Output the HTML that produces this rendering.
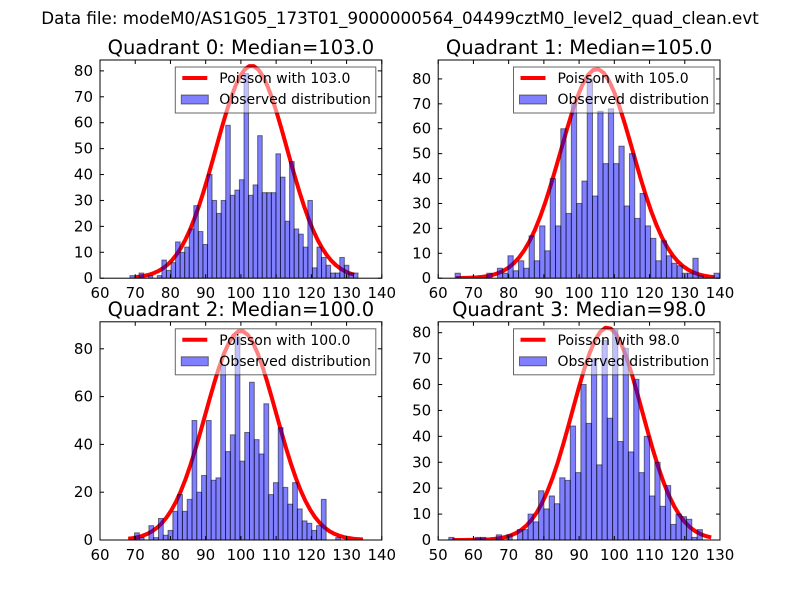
<!DOCTYPE html>
<html><head><meta charset="utf-8"><style>
html,body{margin:0;padding:0;background:#fff;}
svg{display:block;font-family:"DejaVu Sans","Liberation Sans",sans-serif;}
</style></head><body>
<svg id="fig" width="800" height="600" viewBox="0 0 800 600">
<rect width="800" height="600" fill="#fff"/>
<text x="400" y="24" text-anchor="middle" font-size="16.7">Data file: modeM0/AS1G05_173T01_9000000564_04499cztM0_level2_quad_clean.evt</text>
</svg>
<script>
const counts0 = [1,0,2,0,1,0,1,7,3,6,14,10,12,19,28,18,13,40,30,25,30,59,32,34,38,79,32,36,55,33,33,33,48,39,22,45,19,17,12,30,4,12,8,5,2,2,8,5,2,2];
const counts1 = [2,0,0,0,0,0,2,0,4,2,9,3,7,4,17,7,21,11,40,21,60,26,70,30,39,80,33,67,46,68,46,53,29,50,24,34,21,16,7,15,9,6,5,2,2,8,1,0,0,2];
const counts2 = [3,1,0,6,1,9,2,4,12,19,12,17,50,20,27,50,25,26,73,37,44,85,33,45,66,42,36,57,19,24,47,22,15,24,13,8,7,4,6,17,0,0,1];
const counts3 = [1,0,0,0,0,1,1,0,0,2,0,2,0,4,4,10,7,19,12,17,14,24,23,44,26,60,45,70,29,77,47,81,38,74,34,62,26,40,17,30,13,21,6,10,9,8,1,4];
const binStarts = [68.5, 64.8, 69.8, 53.0];
const binWidths = [1.295, 1.5, 1.36, 1.5];
const medians = [103.0, 105.0, 100.0, 98.0];
const curveAmps = [82, 84, 87.5, 82];
const curveRanges = [[70,133],[65,139],[68,135],[54,128]];
const xTickVals = [[60,70,80,90,100,110,120,130,140],[60,70,80,90,100,110,120,130,140],[60,70,80,90,100,110,120,130,140],[50,60,70,80,90,100,110,120,130]];
const yTickVals = [[0,10,20,30,40,50,60,70,80],[0,10,20,30,40,50,60,70,80],[0,20,40,60,80],[0,10,20,30,40,50,60,70,80]];
const xLims = [[60,140],[60,140],[60,140],[50,130]];
const yMaxes = [84.2, 87.6, 91.3, 84.2];

const NS = "http://www.w3.org/2000/svg";
const svg = document.getElementById('fig');
function mk(tag, attrs, parent){
  const e = document.createElementNS(NS, tag);
  for (const k in attrs) e.setAttribute(k, attrs[k]);
  (parent||svg).appendChild(e);
  return e;
}
const allCounts = [counts0, counts1, counts2, counts3];
const W = 281.8, H = 218.2;
const lefts = [100, 438.2, 100, 438.2];
const tops = [60, 60, 321.8, 321.8];

for (let p = 0; p < 4; p++) {
  const L = lefts[p], T = tops[p], B = T + H, R = L + W;
  const g = mk('g', {});
  
  
  const xs = v => L + (v - xLims[p][0]) / (xLims[p][1] - xLims[p][0]) * W;
  const ys = v => B - v / yMaxes[p] * H;
  const clipId = 'clip' + p;
  const cp = mk('clipPath', {id: clipId}, g);
  mk('rect', {x: L, y: T, width: W, height: H}, cp);
  const plotG = mk('g', {'clip-path': 'url(#' + clipId + ')'}, g);

  const [c0, c1] = curveRanges[p];
  const lam = medians[p];
  let pts = [];
  for (let x = c0; x <= c1 + 0.001; x += binWidths[p]) {
    const y = curveAmps[p] * Math.exp(-(x - lam) * (x - lam) / (2 * lam));
    pts.push(xs(x).toFixed(2) + ',' + ys(y).toFixed(2));
  }
  const curve = mk('polyline', {points: pts.join(' '), fill: 'none', stroke: '#ff0000', 'stroke-width': 4, 'stroke-linejoin': 'round'}, plotG);
  
  

  const cts = allCounts[p];
  for (let i = 0; i < cts.length; i++) {
    if (cts[i] <= 0) continue;
    const x0 = xs(binStarts[p] + i * binWidths[p]);
    const x1 = xs(binStarts[p] + (i + 1) * binWidths[p]);
    const r = mk('rect', {x: x0, y: ys(cts[i]), width: x1 - x0, height: B - ys(cts[i]), fill: 'rgba(0,0,255,0.5)', stroke: 'rgba(0,0,0,0.5)', 'stroke-width': 1}, plotG);
    
    
  }

  mk('rect', {x: L, y: T, width: W, height: H, fill: 'none', stroke: '#000', 'stroke-width': 1}, g);
  xTickVals[p].forEach(v => {
    const x = xs(v);
    mk('line', {x1: x, y1: B, x2: x, y2: B - 4, stroke: '#000'}, g);
    mk('line', {x1: x, y1: T, x2: x, y2: T + 4, stroke: '#000'}, g);
    const t = mk('text', {x: x, y: B + 20, 'text-anchor': 'middle', 'font-size': 15}, g);
    t.textContent = v;
    
    
  });
  yTickVals[p].forEach(v => {
    const y = ys(v);
    mk('line', {x1: L, y1: y, x2: L + 4, y2: y, stroke: '#000'}, g);
    mk('line', {x1: R, y1: y, x2: R - 4, y2: y, stroke: '#000'}, g);
    const t = mk('text', {x: L - 7, y: y + 5, 'text-anchor': 'end', 'font-size': 15}, g);
    t.textContent = v;
    
    
  });
  const tt = mk('text', {x: L + W / 2, y: T - 6, 'text-anchor': 'middle', 'font-size': 19.5}, g);
  tt.textContent = 'Quadrant ' + p + ': Median=' + medians[p].toFixed(1);
  
  

  const lg = mk('g', {}, g);
  
  
  const lx = R - 206.5, ly = T + 7;
  mk('rect', {x: lx, y: ly, width: 200.5, height: 46, fill: 'rgba(255,255,255,0.5)', stroke: '#000', 'stroke-opacity': 0.6, 'stroke-width': 1}, lg);
  const e1 = mk('line', {x1: lx + 7, y1: ly + 11, x2: lx + 32, y2: ly + 11, stroke: '#ff0000', 'stroke-width': 4}, lg);
  
  
  const t1 = mk('text', {x: lx + 44, y: ly + 16, 'font-size': 14}, lg);
  t1.textContent = 'Poisson with ' + medians[p].toFixed(1);
  const e2 = mk('rect', {x: lx + 6, y: ly + 28, width: 27, height: 9, fill: 'rgba(0,0,255,0.5)', stroke: 'rgba(0,0,0,0.5)'}, lg);
  
  
  const t2 = mk('text', {x: lx + 44, y: ly + 37, 'font-size': 14}, lg);
  t2.textContent = 'Observed distribution';
}
</script>
</body></html>
